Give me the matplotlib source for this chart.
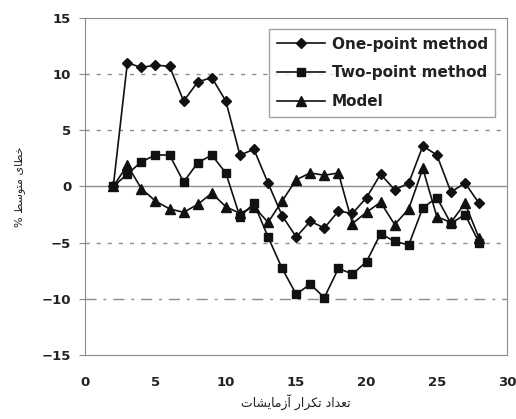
import matplotlib

matplotlib.use("Agg")
import matplotlib.pyplot as plt

TEXT_COLOR = "#222222"
GRID_COLOR = "#8c8c8c"
LINE_COLOR = "#111111"

runs = list(range(2, 29))
onePoint = [0.0, 11.0, 10.6, 10.8, 10.7, 7.6, 9.3, 9.7, 7.6, 2.8, 3.3, 0.3,
            -2.6, -4.5, -3.1, -3.7, -2.2, -2.4, -1.0, 1.1, -0.3, 0.3, 3.6,
            2.8, -0.5, 0.3, -1.5]
twoPoint = [0.0, 1.1, 2.2, 2.8, 2.8, 0.4, 2.1, 2.8, 1.2, -2.7, -1.5, -4.5,
            -7.3, -9.6, -8.7, -9.9, -7.3, -7.8, -6.7, -4.2, -4.9, -5.2, -1.9,
            -1.0, -3.3, -2.5, -5.0]
model = [0.0, 1.9, -0.2, -1.3, -2.0, -2.3, -1.6, -0.6, -1.8, -2.4, -1.8, -3.2,
         -1.3, 0.6, 1.2, 1.0, 1.2, -3.3, -2.3, -1.4, -3.4, -2.0, 1.6, -2.7,
         -3.2, -1.5, -4.6]
seriesNames = ["One-point method", "Two-point method", "Model"]
xTicks = [0, 5, 10, 15, 20, 25, 30]
yTicks = [-15, -10, -5, 0, 5, 10, 15]
xLabel = "تعداد تکرار آزمایشات"
yLabel = "خطای متوسط %"

# presentation forms: isolated, final, initial, medial
FORMS = {
    "ا": ("\uFE8D", "\uFE8E"),
    "آ": ("\uFE81", "\uFE82"),
    "د": ("\uFEA9", "\uFEAA"),
    "ر": ("\uFEAD", "\uFEAE"),
    "ز": ("\uFEAF", "\uFEB0"),
    "و": ("\uFEED", "\uFEEE"),
    "ت": ("\uFE95", "\uFE96", "\uFE97", "\uFE98"),
    "ع": ("\uFEC9", "\uFECA", "\uFECB", "\uFECC"),
    "ک": ("\uFED9", "\uFEDA", "\uFEDB", "\uFEDC"),
    "م": ("\uFEE1", "\uFEE2", "\uFEE3", "\uFEE4"),
    "ی": ("\uFEEF", "\uFEF0", "\uFEF3", "\uFEF4"),
    "ش": ("\uFEB5", "\uFEB6", "\uFEB7", "\uFEB8"),
    "خ": ("\uFEA5", "\uFEA6", "\uFEA7", "\uFEA8"),
    "ط": ("\uFEC1", "\uFEC2", "\uFEC3", "\uFEC4"),
    "س": ("\uFEB1", "\uFEB2", "\uFEB3", "\uFEB4"),
}


# Joins Persian letters and puts them in visual order.
def shape(text):
    out = []
    for i, ch in enumerate(text):
        forms = FORMS.get(ch)
        if forms is None:
            out.append(ch)
            continue
        prev = text[i - 1] if i > 0 else ""
        nxt = text[i + 1] if i + 1 < len(text) else ""
        joinPrev = prev in FORMS and len(FORMS[prev]) == 4
        joinNext = nxt in FORMS and len(forms) == 4
        if joinPrev and joinNext:
            out.append(forms[3])
        elif joinPrev:
            out.append(forms[1])
        elif joinNext:
            out.append(forms[2])
        else:
            out.append(forms[0])
    return "".join(reversed(out))


fig = plt.figure(figsize=(5.16, 4.19), dpi=100)
ax = fig.add_axes([0.165, 0.153, 0.818, 0.804])

ax.axhline(10, color=GRID_COLOR, linewidth=1.0, linestyle=(0, (3, 5)))
ax.axhline(5, color=GRID_COLOR, linewidth=1.0, linestyle=(0, (3, 5)))
ax.axhline(0, color=GRID_COLOR, linewidth=1.0)
ax.axhline(-5, color=GRID_COLOR, linewidth=1.0, linestyle=(0, (3, 5)))
ax.axhline(-10, color=GRID_COLOR, linewidth=1.0,
           linestyle=(0, (8, 5, 2, 5)))

ax.plot(runs, onePoint, color=LINE_COLOR, linewidth=1.2, marker="D",
        markersize=5, label=seriesNames[0])
ax.plot(runs, twoPoint, color=LINE_COLOR, linewidth=1.2, marker="s",
        markersize=6, label=seriesNames[1])
ax.plot(runs, model, color=LINE_COLOR, linewidth=1.2, marker="^",
        markersize=6.5, label=seriesNames[2])

ax.set_xlim(0, 30)
ax.set_ylim(-15, 15)
ax.set_xticks(xTicks)
ax.set_yticks(yTicks)
ax.tick_params(axis="x", length=0, pad=15, labelsize=9.5,
               labelcolor=TEXT_COLOR)
ax.tick_params(axis="y", length=4, pad=6, labelsize=9.5,
               labelcolor=TEXT_COLOR, color=GRID_COLOR)
for label in ax.get_xticklabels() + ax.get_yticklabels():
    label.set_fontweight("bold")
for spine in ax.spines.values():
    spine.set_color(GRID_COLOR)

ax.set_xlabel(shape(xLabel), fontsize=9, color=TEXT_COLOR,
              family="DejaVu Sans", labelpad=4)
ax.set_ylabel(shape(yLabel), fontsize=8, color=TEXT_COLOR,
              family="DejaVu Sans", labelpad=12)

legend = ax.legend(loc="upper right", frameon=True,
                   fancybox=False, edgecolor=GRID_COLOR, handlelength=3.2,
                   handletextpad=0.4, borderpad=0.5, labelspacing=0.9,
                   bbox_to_anchor=(0.99, 0.99),
                   prop={"weight": "bold", "size": 11})
legend.get_frame().set_linewidth(1.0)
for text in legend.get_texts():
    text.set_color(TEXT_COLOR)

fig.savefig("out.png", dpi=100)
